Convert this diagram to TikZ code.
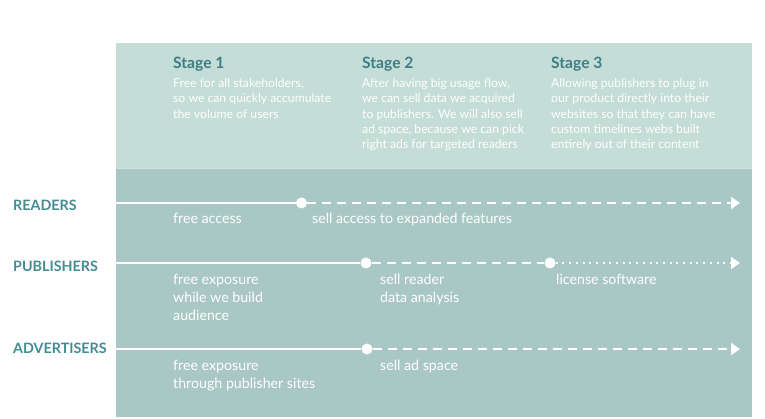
\documentclass[tikz,border=0pt]{standalone}
\usepackage{fontspec}
\setmainfont{Lato}
\usetikzlibrary{arrows.meta}
\definecolor{toppanel}{HTML}{C4DDD6}
\definecolor{botpanel}{HTML}{A9C7C4}
\definecolor{seam}{HTML}{D3E3DF}
\definecolor{rowlabel}{HTML}{428C92}
\definecolor{stagetitle}{HTML}{3D7E85}
\tikzset{
  stagehead/.style={anchor=base west, inner sep=0, text=stagetitle, font=\fontsize{15.6}{17}\selectfont\bfseries},
  stagebody/.style={anchor=base west, inner sep=0, text=white, align=left, font=\fontsize{12.2}{15.4}\selectfont},
  rowname/.style={anchor=base west, inner sep=0, text=rowlabel, font=\fontsize{14.3}{16}\selectfont\bfseries},
  rowtext/.style={anchor=base west, inner sep=0, text=white, align=left, font=\fontsize{14.2}{17.8}\selectfont},
  milestone/.style={circle, fill=white, inner sep=0, minimum size=11pt},
  solidseg/.style={draw=white, line width=2pt},
  dashseg/.style={draw=white, line width=2pt, dash pattern=on 9pt off 6pt},
  dotseg/.style={draw=white, line width=2pt, dash pattern=on 2pt off 4.7pt},
  tip/.style={-{Triangle[length=9pt,width=12pt]}}
}
\begin{document}
\begin{tikzpicture}[x=1pt,y=-1pt]
\useasboundingbox (0,0) rectangle (765,419);
\fill[toppanel] (116,43) rectangle (752,168);
\fill[seam] (116,168) rectangle (752,169);
\fill[botpanel] (116,169) rectangle (752,417);

\node[stagehead] (s1) at (173,68.3) {Stage 1};
\node[stagehead] (s2) at (362,68.3) {Stage 2};
\node[stagehead] (s3) at (551,68.3) {Stage 3};
\node[stagebody] (b1) at (173,118.1) {Free for all stakeholders,\\so we can quickly accumulate\\the volume of users};
\node[stagebody] (b2) at (362,149) {After having big usage flow,\\we can sell data we acquired\\to publishers. We will also sell\\ad space, because we can pick\\right ads for targeted readers};
\node[stagebody] (b3) at (551,149) {Allowing publishers to plug in\\our product directly into their\\websites so that they can have\\custom timelines webs built\\entirely out of their content};

% Readers
\node[rowname] (lr) at (13,210.7) {READERS};
\coordinate (r0) at (116,203);
\node[milestone] (r1) at (301.5,203) {};
\coordinate (r2) at (740,203);
\draw[solidseg] (r0) -- (r1);
\draw[dashseg,tip] (r1) -- (r2);
\node[rowtext] (tr0) at (173,223.3) {free access};
\node[rowtext] (tr1) at (312,223.3) {sell access to expanded features};

% Publishers
\node[rowname] (lp) at (13,271.7) {PUBLISHERS};
\coordinate (p0) at (116,263);
\node[milestone] (p1) at (366,263) {};
\node[milestone] (p2) at (550,263) {};
\coordinate (p3) at (740,263);
\draw[solidseg] (p0) -- (p1);
\draw[dashseg] (p1) -- (p2);
\draw[dotseg,tip] (p2) -- (p3);
\node[rowtext] (tp0) at (173,320) {free exposure\\while we build\\audience};
\node[rowtext] (tp1) at (380,302) {sell reader\\data analysis};
\node[rowtext] (tp2) at (556,284.3) {license software};

% Advertisers
\node[rowname] (la) at (13,353.3) {ADVERTISERS};
\coordinate (a0) at (116,349);
\node[milestone] (a1) at (367,349) {};
\coordinate (a2) at (740,349);
\draw[solidseg] (a0) -- (a1);
\draw[dashseg,tip] (a1) -- (a2);
\node[rowtext] (ta0) at (173,388.5) {free exposure\\through publisher sites};
\node[rowtext] (ta1) at (380,370.7) {sell ad space};
\end{tikzpicture}
\end{document}
